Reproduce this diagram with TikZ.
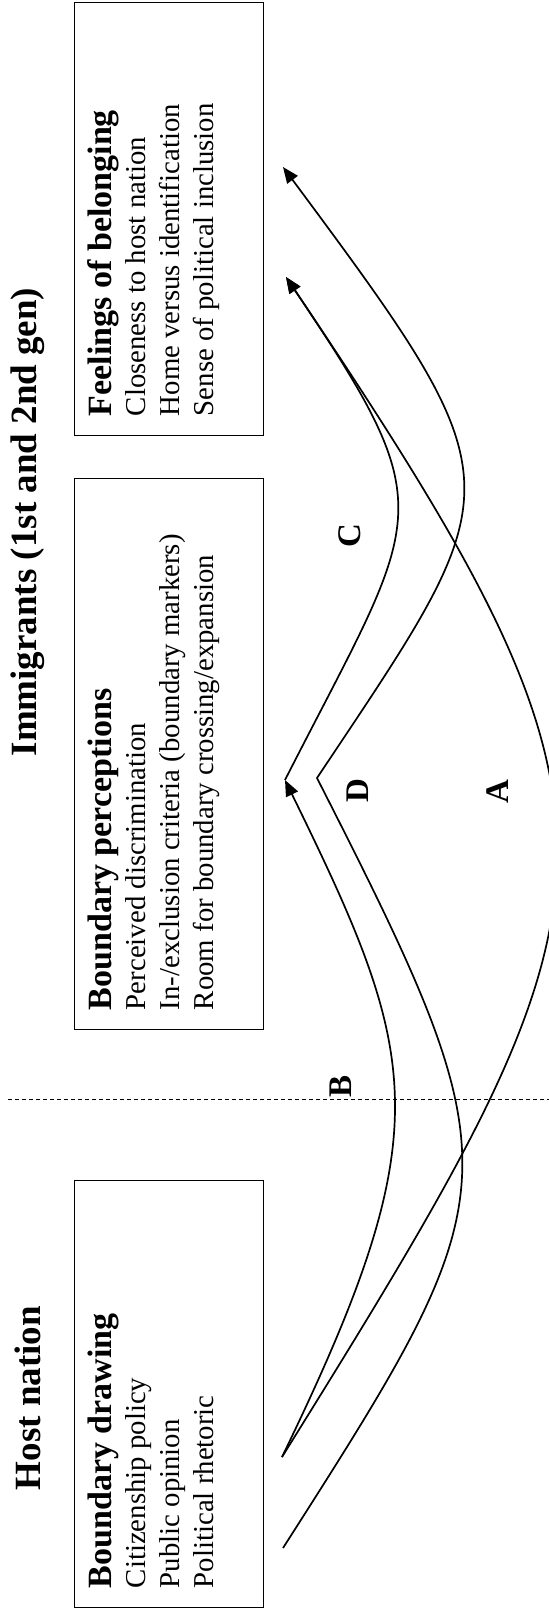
\documentclass[tikz,border=0pt]{standalone}
\usepackage{fontspec}
\setmainfont{Liberation Serif}
\usetikzlibrary{arrows.meta,positioning}
\tikzset{
  frame/.style  ={draw,line width=0.5pt,rotate=90,inner sep=0pt},
  boxtext/.style={rotate=90,align=left,inner sep=0pt,anchor=north west,
                  font=\fontsize{14.4}{17}\selectfont},
  head/.style   ={rotate=90,inner sep=0pt,font=\fontsize{18.5}{20}\selectfont\bfseries},
  tag/.style    ={rotate=90,inner sep=0pt,font=\fontsize{16.5}{18}\selectfont\bfseries},
  link/.style   ={-{Triangle[length=8pt,width=6.5pt]},line width=0.85pt,line join=miter},
  divider/.style={line width=0.5pt,dash pattern=on 2pt off 1.5pt}
}
\newcommand{\boxhead}[1]{{\fontsize{17}{18}\selectfont\bfseries #1}}

\begin{document}
\begin{tikzpicture}[x=0.5pt,y=-0.5pt]
    \useasboundingbox (0,0) rectangle (549,1613);
    \node[head] (host) at (28,1398) {Host nation};
    \node[head] (immi) at (28,522) {Immigrants (1st and 2nd gen)};
    \node[frame,minimum width=213.5pt,minimum height=94.5pt] (bdraw) at (168.5,1393.5) {};
    \node[frame,minimum width=275.5pt,minimum height=94.5pt] (bperc) at (168.5,753.5) {};
    \node[frame,minimum width=216.5pt,minimum height=94.5pt] (bfeel) at (168.5,218.5) {};
    \node[boxtext] (bdrawtxt) at ([shift={(14,-19)}]bdraw.north west)
      {\boxhead{Boundary drawing}\\Citizenship policy\\Public opinion\\Political rhetoric};
    \node[boxtext] (bperctxt) at ([shift={(14,-19)}]bperc.north west)
      {\boxhead{Boundary perceptions}\\Perceived discrimination\\
       In-/exclusion criteria (boundary markers)\\Room for boundary crossing/expansion};
    \node[boxtext] (bfeeltxt) at ([shift={(14,-19)}]bfeel.north west)
      {\boxhead{Feelings of belonging}\\Closeness to host nation\\
       Home versus identification\\Sense of political inclusion};
    % divider between host nation and immigrants
    \coordinate (divL) at (8,1099);
    \coordinate (divR) at (549,1099);
    \draw[divider] (divL) -- (divR);
    % path ends
    \coordinate (hostA) at (282,1457);
    \coordinate (hostD) at (283,1548);
    \coordinate (percB) at (285,780);
    \coordinate (percD) at (317,778);
    \coordinate (feelA) at (286,277);
    \coordinate (feelD) at (283,167);
    \draw[link] (hostA) .. controls (635,890) and (658,830) .. (feelA);
    \draw[link] (hostA) .. controls (441,1129) and (421,1058) .. (percB);
    \draw[link] (percB) .. controls (422,511) and (446,515) .. (feelA);
    \draw[link] (hostD) .. controls (513,1188) and (519,1175) .. (percD)
                        .. controls (513,484) and (522,489) .. (feelD);
    \node[tag] (tagA) at (497.5,792) {A};
    \node[tag] (tagB) at (341,1086) {B};
    \node[tag] (tagC) at (350,536) {C};
    \node[tag] (tagD) at (357.5,791) {D};
\end{tikzpicture}
\end{document}
